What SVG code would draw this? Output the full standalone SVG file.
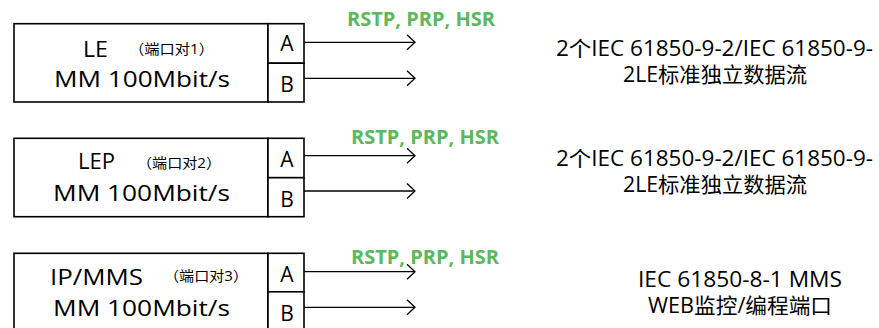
<svg xmlns="http://www.w3.org/2000/svg" width="879" height="328" viewBox="0 0 879 328">
<defs>
<style>
.box{fill:#fff;stroke:#000;stroke-width:1.6}
.t{font-family:"Open Sans","Noto Sans CJK SC",sans-serif;fill:#000}
.big{font-size:22px}
.port{font-size:21px;text-anchor:middle}
.small{font-size:14px}
.green{font-family:"Open Sans","Noto Sans",sans-serif;font-weight:bold;font-size:19px;fill:#5cb85c}
.desc{font-family:"Open Sans","Noto Sans CJK SC",sans-serif;font-size:21px;text-anchor:middle;fill:#000}
.conn{stroke:#000;stroke-width:1.3;fill:none}
</style>
<marker id="arr" markerWidth="12" markerHeight="18" refX="9" refY="8" orient="auto" markerUnits="userSpaceOnUse">
<path d="M1,0.5 L9,8 L1,15.5" fill="none" stroke="#000" stroke-width="1.3"/>
</marker>
</defs>
<rect width="879" height="328" fill="#fff"/>

<g id="node-le">
<rect class="box" x="14" y="23.7" width="254" height="78.3"/>
<rect class="box" x="268" y="23.7" width="36" height="39.5"/>
<rect class="box" x="268" y="63.2" width="36" height="38.8"/>
<text class="t big" x="83" y="57" textLength="25" lengthAdjust="spacingAndGlyphs">LE</text>
<text class="t small" x="129" y="54" textLength="85" lengthAdjust="spacingAndGlyphs">（端口对1）</text>
<text class="t big" x="54" y="87" textLength="176" lengthAdjust="spacingAndGlyphs">MM 100Mbit/s</text>
<text class="t port" x="287" y="51">A</text>
<text class="t port" x="287" y="92">B</text>
</g>

<g id="node-lep">
<rect class="box" x="14" y="138.3" width="254" height="78.4"/>
<rect class="box" x="268" y="138.3" width="36" height="39.4"/>
<rect class="box" x="268" y="177.7" width="36" height="39"/>
<text class="t big" x="78" y="169" textLength="37" lengthAdjust="spacingAndGlyphs">LEP</text>
<text class="t small" x="137" y="168" textLength="84" lengthAdjust="spacingAndGlyphs">（端口对2）</text>
<text class="t big" x="53" y="201" textLength="177" lengthAdjust="spacingAndGlyphs">MM 100Mbit/s</text>
<text class="t port" x="287" y="167">A</text>
<text class="t port" x="287" y="207">B</text>
</g>

<g id="node-ipmms">
<rect class="box" x="14" y="253.3" width="254" height="80"/>
<rect class="box" x="268" y="253.3" width="36" height="38.5"/>
<rect class="box" x="268" y="291.8" width="36" height="42"/>
<text class="t big" x="50" y="285" textLength="93" lengthAdjust="spacingAndGlyphs">IP/MMS</text>
<text class="t small" x="164" y="281" textLength="84" lengthAdjust="spacingAndGlyphs">（端口对3）</text>
<text class="t big" x="53" y="316" textLength="177" lengthAdjust="spacingAndGlyphs">MM 100Mbit/s</text>
<text class="t port" x="287" y="282">A</text>
<text class="t port" x="287" y="321">B</text>
</g>

<g id="connectors">
<line class="conn" x1="304" y1="42.3" x2="415" y2="42.3" marker-end="url(#arr)"/>
<line class="conn" x1="304" y1="78.3" x2="415" y2="78.3" marker-end="url(#arr)"/>
<line class="conn" x1="304" y1="155.7" x2="415" y2="155.7" marker-end="url(#arr)"/>
<line class="conn" x1="304" y1="191" x2="415" y2="191" marker-end="url(#arr)"/>
<line class="conn" x1="304" y1="271.7" x2="415" y2="271.7" marker-end="url(#arr)"/>
<line class="conn" x1="304" y1="307.3" x2="415" y2="307.3" marker-end="url(#arr)"/>
</g>

<g id="labels">
<text class="green" x="347" y="26" textLength="148" lengthAdjust="spacingAndGlyphs">RSTP, PRP, HSR</text>
<text class="green" x="351" y="144" textLength="148" lengthAdjust="spacingAndGlyphs">RSTP, PRP, HSR</text>
<text class="green" x="351" y="264" textLength="148" lengthAdjust="spacingAndGlyphs">RSTP, PRP, HSR</text>
</g>

<g id="desc-1">
<text class="desc" x="714.5" y="56" textLength="317" lengthAdjust="spacingAndGlyphs">2个IEC 61850-9-2/IEC 61850-9-</text>
<text class="desc" x="715" y="82" textLength="184" lengthAdjust="spacingAndGlyphs">2LE标准独立数据流</text>
</g>
<g id="desc-2">
<text class="desc" x="714.5" y="166" textLength="317" lengthAdjust="spacingAndGlyphs">2个IEC 61850-9-2/IEC 61850-9-</text>
<text class="desc" x="715" y="192" textLength="184" lengthAdjust="spacingAndGlyphs">2LE标准独立数据流</text>
</g>
<g id="desc-3">
<text class="desc" x="740" y="287" textLength="204" lengthAdjust="spacingAndGlyphs">IEC 61850-8-1 MMS</text>
<text class="desc" x="740" y="313" textLength="184" lengthAdjust="spacingAndGlyphs">WEB监控/编程端口</text>
</g>
</svg>
